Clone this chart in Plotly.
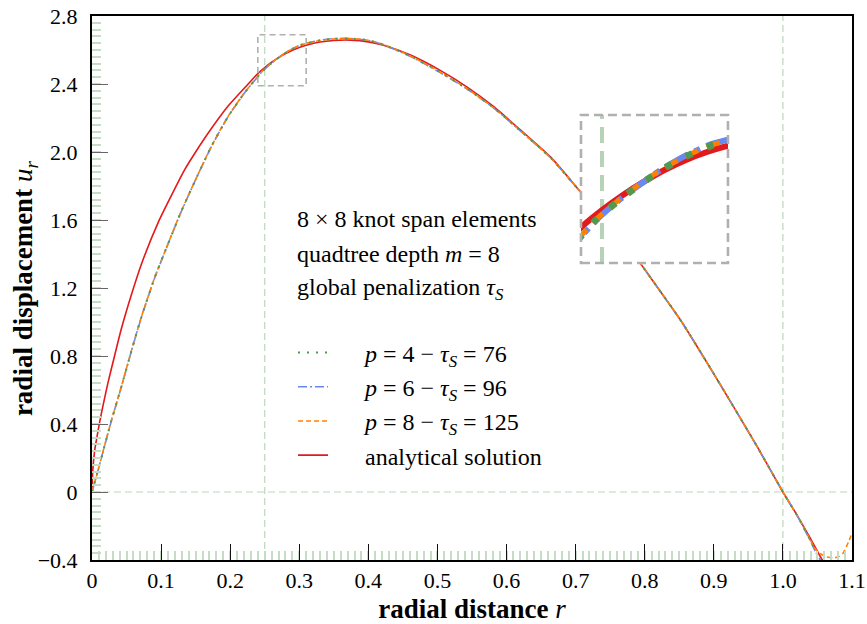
import plotly.graph_objects as go

# ---------------- data ----------------
r_analytical = [0, 0.001, 0.0039, 0.007, 0.011, 0.016, 0.023, 0.032, 0.0425, 0.057,
                0.0715, 0.0957, 0.115, 0.134, 0.15, 0.168, 0.197, 0.226, 0.24, 0.25,
                0.26, 0.27, 0.28, 0.29, 0.30, 0.31, 0.33, 0.35, 0.374, 0.40,
                0.422, 0.461, 0.504, 0.543, 0.582, 0.62, 0.664, 0.705, 0.75, 0.794,
                0.818, 0.852, 0.891, 0.92, 0.963, 1.0, 1.021, 1.04, 1.053, 1.06]
u_analytical = [0, 0.12, 0.245, 0.32, 0.41, 0.51, 0.64, 0.79, 0.96, 1.16,
                1.34, 1.585, 1.745, 1.895, 2.00, 2.11, 2.27, 2.40, 2.462, 2.497,
                2.528, 2.555, 2.579, 2.599, 2.615, 2.628, 2.647, 2.656, 2.658, 2.648,
                2.628, 2.57, 2.48, 2.382, 2.265, 2.13, 1.97, 1.775, 1.56, 1.343,
                1.206, 1.01, 0.755, 0.56, 0.265, 0.0, -0.14, -0.275, -0.372, -0.42]

r_numerical = [0, 0.0087, 0.018, 0.028, 0.0425, 0.057, 0.0715, 0.091, 0.110, 0.129,
               0.149, 0.173, 0.197, 0.221, 0.2466, 0.2569, 0.2674, 0.2785, 0.29, 0.3021,
               0.31, 0.33, 0.35, 0.374, 0.40, 0.422, 0.461, 0.504, 0.543, 0.582,
               0.62, 0.664, 0.705, 0.75, 0.794, 0.818, 0.852, 0.891, 0.92, 0.963,
               1.0, 1.021, 1.04]
u_p8_core = [0, 0.128, 0.27, 0.42, 0.62, 0.83, 1.03, 1.265, 1.46, 1.65,
             1.83, 2.035, 2.21, 2.35, 2.476, 2.514, 2.548, 2.58, 2.607, 2.629,
             2.638, 2.656, 2.665, 2.667, 2.657, 2.632, 2.565, 2.47, 2.372, 2.258,
             2.125, 1.965, 1.775, 1.56, 1.343, 1.206, 1.01, 0.755, 0.56, 0.265,
             0.0, -0.14, -0.284]
u_p6_core = [0, 0.126, 0.268, 0.418, 0.618, 0.828, 1.028, 1.262, 1.458, 1.648,
             1.828, 2.033, 2.208, 2.348, 2.474, 2.513, 2.547, 2.58, 2.608, 2.631,
             2.64, 2.658, 2.667, 2.668, 2.656, 2.63, 2.562, 2.467, 2.37, 2.257,
             2.124, 1.965, 1.775, 1.56, 1.343, 1.206, 1.01, 0.755, 0.56, 0.265,
             0.0, -0.142, -0.29]
u_p4_core = [0, 0.127, 0.269, 0.419, 0.619, 0.829, 1.029, 1.264, 1.459, 1.649,
             1.829, 2.034, 2.209, 2.349, 2.475, 2.513, 2.547, 2.579, 2.606, 2.628,
             2.637, 2.656, 2.666, 2.667, 2.657, 2.631, 2.564, 2.469, 2.371, 2.258,
             2.125, 1.965, 1.775, 1.56, 1.343, 1.206, 1.01, 0.755, 0.56, 0.265,
             0.0, -0.141, -0.287]

r_p8_tail = [1.046, 1.053, 1.062, 1.072, 1.08, 1.087, 1.092, 1.096, 1.1]
u_p8_tail = [-0.33, -0.36, -0.38, -0.387, -0.382, -0.36, -0.32, -0.284, -0.24]
r_p6_tail = [1.047, 1.054, 1.061]
u_p6_tail = [-0.35, -0.40, -0.45]
r_p4_tail = [1.048, 1.055, 1.062]
u_p4_tail = [-0.355, -0.405, -0.455]

r_p8 = r_numerical + r_p8_tail
u_p8 = u_p8_core + u_p8_tail
r_p6 = r_numerical + r_p6_tail
u_p6 = u_p6_core + u_p6_tail
r_p4 = r_numerical + r_p4_tail
u_p4 = u_p4_core + u_p4_tail

x_tick_vals = [0, 0.1, 0.2, 0.3, 0.4, 0.5, 0.6, 0.7, 0.8, 0.9, 1.0, 1.1]
x_tick_text = ["0", "0.1", "0.2", "0.3", "0.4", "0.5", "0.6", "0.7", "0.8", "0.9", "1.0", "1.1"]
y_tick_vals = [-0.4, 0, 0.4, 0.8, 1.2, 1.6, 2.0, 2.4, 2.8]
y_tick_text = ["\u22120.4", "0", "0.4", "0.8", "1.2", "1.6", "2.0", "2.4", "2.8"]

name_p4 = "<i>p</i> = 4 \u2212 <i>\u03c4</i><sub><i>S</i></sub> = 76"
name_p6 = "<i>p</i> = 6 \u2212 <i>\u03c4</i><sub><i>S</i></sub> = 96"
name_p8 = "<i>p</i> = 8 \u2212 <i>\u03c4</i><sub><i>S</i></sub> = 125"
name_an = "analytical solution"

info_lines = ["8 \u00d7 8 knot span elements",
              "quadtree depth <i>m</i> = 8",
              "global penalization <i>\u03c4</i><sub><i>S</i></sub>"]

zoom_x = [0.24, 0.31]
zoom_y = [2.39, 2.69]

# ---------------- styles ----------------
FONT = "Liberation Serif"
C_RED = "#e3191c"
C_BLUE = "#6889f0"
C_ORANGE = "#ff8000"
C_GREEN = "#4f9a4f"
C_GUIDE = "#bcd6bc"
C_BOX = "#b0b0b0"
LEGEND_PAD = "\u00a0" * 5 + "\u200a"

series = [
    # r, u, name, color, dash main, width main, dash inset, width inset, rank
    (r_analytical, u_analytical, name_an, C_RED, "solid", 1.6, "solid", 6, 4),
    (r_p6, u_p6, name_p6, C_BLUE, "9px,3px,2px,3px", 1.6, "26px,7px,6px,7px", 6, 2),
    (r_p8, u_p8, name_p8, C_ORANGE, "5px,3px", 1.6, "14px,9px", 5, 3),
    (r_p4, u_p4, name_p4, C_GREEN, "2px,7px", 2.0, "7px,16px", 7, 1),
]

fig = go.Figure()
for r, u, name, color, dmain, wmain, dinset, winset, rank in series:
    fig.add_trace(go.Scatter(
        x=r, y=u, mode="lines", name=LEGEND_PAD + name, legendrank=rank,
        line=dict(color=color, width=wmain, dash=dmain, shape="spline", smoothing=0.6),
        legendgroup=name, showlegend=True, xaxis="x", yaxis="y",
        hoverinfo="skip"))
    fig.add_trace(go.Scatter(
        x=r, y=u, mode="lines", name=name, legendgroup=name, showlegend=False,
        line=dict(color=color, width=winset, dash=dinset, shape="spline", smoothing=0.6),
        xaxis="x2", yaxis="y2", hoverinfo="skip"))

# inset placement (paper coords)
ins_x = [0.6434, 0.8368]
ins_y = [0.546, 0.818]

shapes = [
    dict(type="line", xref="x", yref="y domain", x0=0.25, x1=0.25, y0=0, y1=1,
         line=dict(color=C_GUIDE, width=1.2, dash="7px,4px"), layer="below"),
    dict(type="line", xref="x", yref="y domain", x0=1.0, x1=1.0, y0=0, y1=1,
         line=dict(color=C_GUIDE, width=1.2, dash="7px,4px"), layer="below"),
    dict(type="line", xref="x domain", yref="y", x0=0, x1=1, y0=0, y1=0,
         line=dict(color=C_GUIDE, width=1.2, dash="7px,4px"), layer="below"),
    dict(type="rect", xref="x", yref="y", x0=zoom_x[0], x1=zoom_x[1], y0=zoom_y[0], y1=zoom_y[1],
         line=dict(color=C_BOX, width=1.6, dash="6px,4px"), layer="above"),
    dict(type="rect", xref="x2", yref="y2", x0=zoom_x[0], x1=zoom_x[1], y0=zoom_y[0], y1=zoom_y[1],
         line=dict(width=0), fillcolor="white", layer="below"),
    dict(type="line", xref="x2", yref="y2", x0=0.25, x1=0.25, y0=zoom_y[0], y1=zoom_y[1],
         line=dict(color="#b7d2b7", width=4, dash="16px,8px"), layer="below"),
    dict(type="rect", xref="paper", yref="paper", x0=ins_x[0], x1=ins_x[1], y0=ins_y[0], y1=ins_y[1],
         line=dict(color=C_BOX, width=2.6, dash="9px,5px"), layer="above"),
]

annotations = []
info_y = [0.6268, 0.5625, 0.4982]
for txt, yy in zip(info_lines, info_y):
    annotations.append(dict(text=txt, xref="paper", yref="paper", x=0.2673, y=yy,
                            xanchor="left", yanchor="middle", showarrow=False,
                            font=dict(family=FONT, size=24, color="black")))
annotations.append(dict(text="<b>radial displacement</b> <i>u<sub>r</sub></i>",
                        xref="paper", yref="paper", x=-0.088, y=0.5, textangle=-90,
                        xanchor="center", yanchor="middle", showarrow=False,
                        font=dict(family=FONT, size=27, color="black")))

fig.update_layout(
    template="none",
    width=867, height=624,
    margin=dict(l=92, r=15, t=16, b=64, autoexpand=False),
    paper_bgcolor="white", plot_bgcolor="white",
    font=dict(family=FONT, size=22, color="black"),
    showlegend=True,
    legend=dict(x=0.2645, y=0.422, xanchor="left", yanchor="top",
                bgcolor="rgba(0,0,0,0)", borderwidth=0, itemwidth=30,
                tracegroupgap=0, font=dict(family=FONT, size=24, color="black"),
                itemclick=False, itemdoubleclick=False),
    xaxis=dict(range=[0, 1.1], domain=[0, 1], anchor="y", automargin=False,
               tickmode="array", tickvals=x_tick_vals, ticktext=x_tick_text,
               ticks="inside", ticklen=16, tickwidth=1.3, tickcolor="#111",
               ticklabelstandoff=0,
               minor=dict(dtick=0.01, tick0=0, ticks="inside", ticklen=9, tickwidth=1.5,
                          tickcolor="#c5dcc5", showgrid=False),
               showline=True, linewidth=2, linecolor="black", mirror=True,
               showgrid=False, zeroline=False,
               tickfont=dict(family=FONT, size=22, color="black"),
               title=dict(text="<b>radial distance</b> <i>r</i>", standoff=8,
                          font=dict(family=FONT, size=27, color="black"))),
    yaxis=dict(range=[-0.4, 2.8], domain=[0, 1], anchor="x", automargin=False,
               tickmode="array", tickvals=y_tick_vals, ticktext=y_tick_text,
               ticks="inside", ticklen=16, tickwidth=1.3, tickcolor="#666",
               ticklabelstandoff=8,
               minor=dict(dtick=0.04, tick0=0, ticks="inside", ticklen=9, tickwidth=1.5,
                          tickcolor="#c5dcc5", showgrid=False),
               showline=True, linewidth=2, linecolor="black", mirror=True,
               showgrid=False, zeroline=False,
               tickfont=dict(family=FONT, size=22, color="black")),
    xaxis2=dict(range=zoom_x, domain=ins_x, anchor="y2", showticklabels=False, ticks="",
                showgrid=False, zeroline=False, showline=False, automargin=False),
    yaxis2=dict(range=zoom_y, domain=ins_y, anchor="x2", showticklabels=False, ticks="",
                showgrid=False, zeroline=False, showline=False, automargin=False),
    shapes=shapes,
    annotations=annotations,
)

fig.write_html("out.html", config={"displayModeBar": False},
               post_script="document.body.style.margin='0px';document.body.style.overflow='hidden';")
